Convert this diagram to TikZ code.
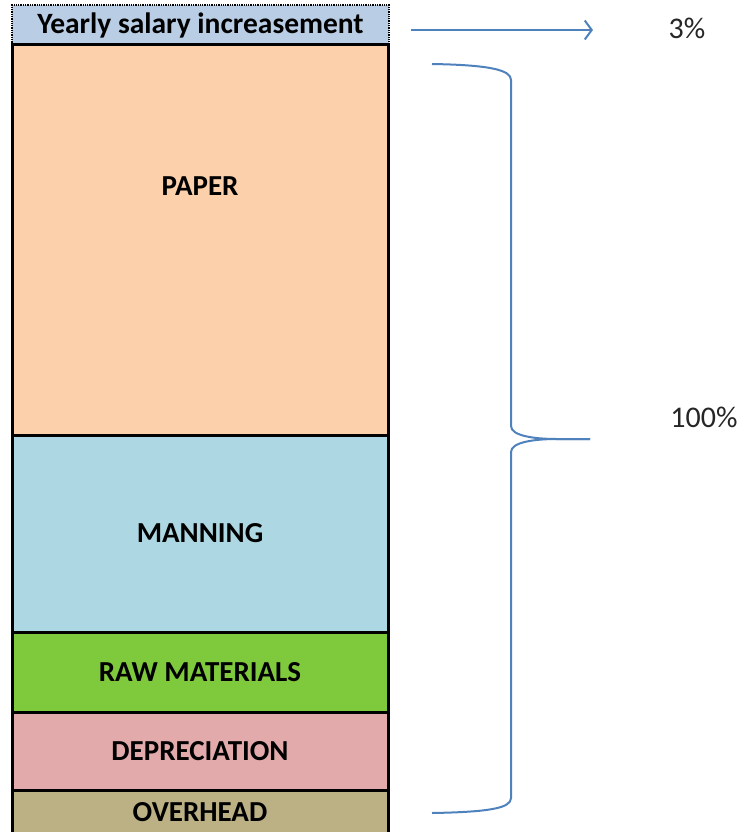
\documentclass[tikz,border=0pt]{standalone}
\usepackage{fontspec}
\setmainfont{Carlito}
\definecolor{yearly_color}{HTML}{B9CDE5}
\definecolor{paper_color}{HTML}{FCD0AA}
\definecolor{manning_color}{HTML}{ADD8E3}
\definecolor{raw_color}{HTML}{7FC93C}
\definecolor{dep_color}{HTML}{E2AAAA}
\definecolor{over_color}{HTML}{BCB185}
\definecolor{line_color}{HTML}{4F81BD}
\usetikzlibrary{positioning,arrows.meta}

\begin{document}
\begin{tikzpicture}[x=1pt,y=-1pt,
    block/.style={draw, line width=3pt, minimum width=376pt, inner sep=0pt, outer sep=0pt,
      font=\fontsize{29}{32}\selectfont\bfseries},
    pct/.style={text=black!85, font=\fontsize{30}{32}\selectfont}]
        \useasboundingbox (0,0) rectangle (742,832);
        \node[draw, densely dotted, line width=1.3pt, fill=yearly_color, minimum width=377pt, minimum height=40pt,
          inner sep=0pt, outer sep=0pt, anchor=north west, font=\fontsize{29.5}{32}\selectfont\bfseries]
          (yearly) at (12,5) {Yearly salary increasement};
        \node[block, fill=paper_color, minimum height=390pt, anchor=north west] (paper) at (12,45) {};
        \node[font=\fontsize{29}{32}\selectfont\bfseries, below=128pt of paper.north] {PAPER};
        \node[block, fill=manning_color, minimum height=197pt, below=0pt of paper] (manning) {MANNING};
        \node[block, fill=raw_color, minimum height=80pt, below=0pt of manning] (raw) {RAW MATERIALS};
        \node[block, fill=dep_color, minimum height=78pt, below=0pt of raw] (dep) {DEPRECIATION};
        \node[block, fill=over_color, minimum height=45pt, below=0pt of dep] (over) {OVERHEAD};
        \node[pct] (pct3) at (687,28) {3\%};
        \node[pct] (pct100) at (704,417) {100\%};
        \coordinate (arrow_start) at (411,30);
        \coordinate (arrow_end) at (593,30);
        \draw[line_color, line width=2pt, -{Straight Barb[length=7pt,width=19pt,line width=2pt]}] (arrow_start) -- (arrow_end);
        \coordinate (brace_top) at (432,64);
        \coordinate (brace_tip) at (590,439);
        \coordinate (brace_bottom) at (432,813);
        \draw[line_color, line width=2pt] (brace_top) .. controls (490,65) and (511,70) .. (511,80) -- (511,426)
          .. controls (511,436) and (535,439) .. (557,439) -- (brace_tip);
        \draw[line_color, line width=2pt] (brace_tip) -- (557,439) .. controls (535,439) and (511,442) .. (511,452)
          -- (511,798) .. controls (511,808) and (490,812) .. (brace_bottom);
      \end{tikzpicture}
\end{document}
